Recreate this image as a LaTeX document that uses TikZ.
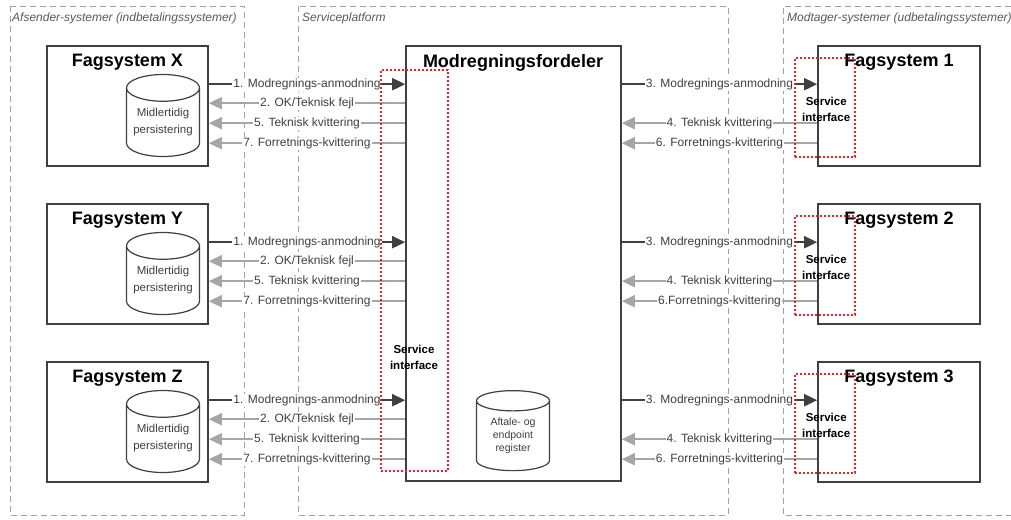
\documentclass[tikz,border=0pt]{standalone}
\usepackage{fontspec}
\setmainfont{Liberation Sans}
\usetikzlibrary{shapes.geometric,arrows.meta,calc}
\definecolor{boxc}{HTML}{404040}
\definecolor{darkarr}{HTML}{404040}
\definecolor{greyarr}{HTML}{A6A6A6}
\definecolor{redc}{HTML}{D9262E}
\definecolor{regc}{HTML}{A0A0A0}
\definecolor{lblc}{HTML}{404040}
\definecolor{regtxt}{HTML}{595959}
\begin{document}
\begin{tikzpicture}[x=1pt,y=-1pt,
 region/.style={draw=regc, line width=0.8pt, dash pattern=on 6pt off 4pt},
 reglbl/.style={font=\fontsize{12}{14}\selectfont\itshape, text=regtxt, anchor=west, inner sep=0pt},
 sysbox/.style={draw=boxc, line width=1.6pt, fill=white, minimum width=161pt, minimum height=120pt, inner sep=0pt},
 titlelbl/.style={font=\fontsize{18}{20}\selectfont\bfseries, text=black, inner sep=0pt},
 db/.style={cylinder, shape border rotate=90, draw=boxc, line width=1.2pt, aspect=0.45, minimum width=73pt, minimum height=82pt, inner sep=0pt, align=center, text=lblc},
 darr/.style={draw=darkarr, line width=2pt, -{Triangle[length=13pt,width=12pt]}},
 garr/.style={draw=greyarr, line width=1.8pt, -{Triangle[length=13pt,width=12pt]}},
 lbl/.style={fill=white, inner sep=1pt, font=\fontsize{12}{14}\selectfont, text=lblc},
 sibox/.style={draw=redc, line width=2pt, dash pattern=on 2pt off 2pt, inner sep=0pt},
 silbl/.style={font=\fontsize{11.5}{16}\selectfont\bfseries, align=center, inner sep=0pt, text=black},
]
\useasboundingbox (0,0) rectangle (1011,519);
% regions
\draw[region] (10,6) rectangle (244,515);
\draw[region] (298,6) rectangle (728,515);
\draw[region] (1011,6) -- (783,6) -- (783,515) -- (1011,515);
\node[reglbl] (rl1) at (12,18) {Afsender-systemer (indbetalingssystemer)};
\node[reglbl] (rl2) at (302,18) {Serviceplatform};
\node[reglbl] (rl3) at (787,18) {Modtager-systemer (udbetalingssystemer)};
% central box
\node[sysbox, minimum width=215pt, minimum height=435pt] (mf) at (513.5,263.5) {};
\node[titlelbl] (mft) at (513,63) {Modregningsfordeler};
\node[db, minimum height=80pt, font=\fontsize{10.5}{13}\selectfont] (reg) at (513,436) {Aftale- og\\endpoint\\register};
% sender systems
\foreach \s/\yc in {X/106, Y/264, Z/422} {
  \node[sysbox] (fs\s) at (127.5,\yc) {};
  \node[titlelbl] (fst\s) at ($(fs\s.north)+(0,17)$) {Fagsystem \s};
  \node[db, font=\fontsize{11.5}{17}\selectfont] (db\s) at (163,\yc+16.5) {Midlertidig\\persistering};
  \draw[darr] ($(fs\s.north east)+(0,39)$) -- ($(fs\s.north east -| mf.west)+(0,39)$) node[midway,lbl] {1. Modregnings-anmodning};
  \draw[garr] ($(fs\s.north east -| mf.west)+(0,58)$) -- ($(fs\s.north east)+(0,58)$) node[midway,lbl] {2. OK/Teknisk fejl};
  \draw[garr] ($(fs\s.north east -| mf.west)+(0,78)$) -- ($(fs\s.north east)+(0,78)$) node[midway,lbl] {5. Teknisk kvittering};
  \draw[garr] ($(fs\s.north east -| mf.west)+(0,98)$) -- ($(fs\s.north east)+(0,98)$) node[midway,lbl] {7. Forretnings-kvittering};
}
% receiver systems
\foreach \n/\yc/\six in {1/106/6. Forretnings-kvittering, 2/264/6.Forretnings-kvittering, 3/422/6. Forretnings-kvittering} {
  \node[sysbox, minimum width=162pt] (fr\n) at (899,\yc) {};
  \node[titlelbl] (frt\n) at ($(fr\n.north)+(0,17)$) {Fagsystem \n};
  \draw[darr] ($(fr\n.north west -| mf.east)+(0,39)$) -- ($(fr\n.north west)+(0,39)$) node[midway,lbl] {3. Modregnings-anmodning};
  \draw[garr] ($(fr\n.north west)+(0,78)$) -- ($(fr\n.north west -| mf.east)+(0,78)$) node[midway,lbl] {4. Teknisk kvittering};
  \draw[garr] ($(fr\n.north west)+(0,98)$) -- ($(fr\n.north west -| mf.east)+(0,98)$) node[midway,lbl] {\six};
  \node[sibox, minimum width=60pt, minimum height=99pt] (si\n) at ($(fr\n.north west)+(8,62.5)$) {};
  \node[silbl] (sit\n) at ($(si\n.center)+(1,2)$) {Service\\interface};
}
% central service interface
\node[sibox, minimum width=67pt, minimum height=401pt] (si0) at (414.5,270.5) {};
\node[silbl] (si0t) at (414,357) {Service\\interface};
\end{tikzpicture}
\end{document}
